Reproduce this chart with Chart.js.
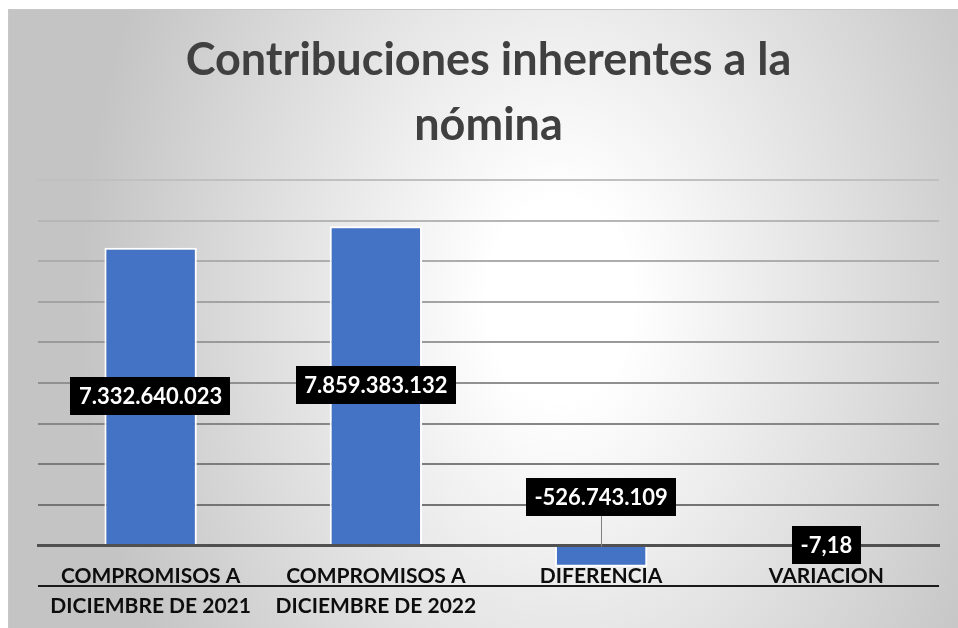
<!DOCTYPE html>
<html>
<head>
<meta charset="utf-8">
<script src="https://cdn.jsdelivr.net/npm/chart.js@4"></script>
<style>
  html, body { margin: 0; padding: 0; background: #fff; }
  canvas { display: block; }
</style>
</head>
<body>
<canvas id="nominaChart" width="958" height="628"></canvas>
<script>
// Chart data
const categories = [
    ['COMPROMISOS A', 'DICIEMBRE DE 2021'],
    ['COMPROMISOS A', 'DICIEMBRE DE 2022'],
    'DIFERENCIA',
    'VARIACION'
];
const values = [7332640023, 7859383132, -526743109, -7.18];
const titleLines = ['Contribuciones inherentes a la', 'nómina'];

const FONT = 'Lato';

// Spanish style number: 7.332.640.023 / -7,18
function formatValue(v) {
    if (Number.isInteger(v)) {
        const s = Math.abs(v).toString().replace(/\B(?=(\d{3})+(?!\d))/g, '.');
        return (v < 0 ? '-' : '') + s;
    }
    return v.toFixed(2).replace('.', ',');
}

// Grey shade of each gridline, lighter at top
function gridColor(ctx) {
    const v = ctx.tick ? ctx.tick.value : 0;
    if (v === 0) return '#505050';
    if (v < 0) return '#1a1a1a';
    const t = v / 9e9;
    const g = Math.round(0x6a + (0xc0 - 0x6a) * t);
    return 'rgb(' + g + ',' + g + ',' + g + ')';
}

// Background: radial grey gradient behind the whole chart
const backgroundPlugin = {
    id: 'bgGradient',
    beforeDraw(chart) {
        const c = chart.ctx;
        const w = chart.width, h = chart.height;
        const x0 = 8, y0 = 9;
        const cx = 560, cy = 300;
        const sy = 1.4;
        c.save();
        c.fillStyle = '#ffffff';
        c.fillRect(0, 0, w, h);
        c.translate(cx, cy);
        c.scale(1, sy);
        const grad = c.createRadialGradient(0, 0, 0, 0, 0, 480);
        grad.addColorStop(0, '#ffffff');
        grad.addColorStop(0.15, '#ffffff');
        grad.addColorStop(1, '#c4c4c4');
        c.fillStyle = grad;
        c.fillRect(x0 - cx, (y0 - cy) / sy, w - x0, (h - y0) / sy);
        c.restore();
        c.save();
        c.strokeStyle = '#c8c8c8';
        c.lineWidth = 1;
        c.beginPath();
        c.moveTo(x0 + 0.5, h);
        c.lineTo(x0 + 0.5, y0 + 0.5);
        c.lineTo(w, y0 + 0.5);
        c.stroke();
        c.restore();
    }
};

// Black boxes with white value text
const valueLabelPlugin = {
    id: 'valueLabels',
    afterDraw(chart) {
        const c = chart.ctx;
        const meta = chart.getDatasetMeta(0);
        c.save();
        c.font = 'bold 22px ' + FONT;
        c.textAlign = 'center';
        c.textBaseline = 'middle';
        meta.data.forEach((bar, i) => {
            const value = chart.data.datasets[0].data[i];
            const text = formatValue(value);
            const tw = c.measureText(text).width;
            const bw = tw + 17;
            const bh = 38;
            let cy;
            if (i === 2) {
                cy = bar.base - 50;
                // leader line
                c.strokeStyle = '#808080';
                c.lineWidth = 1;
                c.beginPath();
                c.moveTo(Math.round(bar.x) + 0.5, cy + bh / 2);
                c.lineTo(Math.round(bar.x) + 0.5, bar.base);
                c.stroke();
            } else if (i === 3) {
                cy = bar.y;
            } else {
                cy = (bar.y + bar.base) / 2;
            }
            c.fillStyle = '#000000';
            c.fillRect(Math.round(bar.x - bw / 2), Math.round(cy - bh / 2), Math.round(bw), bh);
            c.fillStyle = '#ffffff';
            c.fillText(text, bar.x, cy + 1);
        });
        c.restore();
    }
};

const ctx = document.getElementById('nominaChart').getContext('2d');
const nominaChart = new Chart(ctx, {
    type: 'bar',
    data: {
        labels: categories,
        datasets: [{
            label: 'Contribuciones',
            data: values,
            backgroundColor: ['#4472C4', '#4472C4', '#4472C4', 'rgba(68,114,196,0)'],
            borderColor: '#ffffff',
            borderWidth: [2, 2, 2, 0],
            barPercentage: 0.41,
            categoryPercentage: 1
        }]
    },
    options: {
        responsive: false,
        animation: false,
        devicePixelRatio: 1,
        layout: {
            padding: { top: 0, left: 38, right: 19, bottom: 42 }
        },
        scales: {
            x: {
                type: 'category',
                position: { y: 0 },
                z: 1,
                grid: { display: false, drawTicks: false },
                border: { display: true, color: '#505050', width: 3 },
                ticks: {
                    color: '#0d0d0d',
                    font: { family: FONT, size: 21, weight: 'bold', lineHeight: 30 / 21 },
                    padding: 16,
                    maxRotation: 0,
                    autoSkip: false
                }
            },
            y: {
                min: -1e9,
                max: 9e9,
                ticks: { display: false, stepSize: 1e9 },
                border: { display: false },
                grid: {
                    drawTicks: false,
                    color: gridColor,
                    lineWidth: (c) => (c.tick && c.tick.value === 0 ? 3 : 2)
                }
            }
        },
        plugins: {
            legend: { display: false },
            tooltip: { enabled: false },
            title: {
                display: true,
                text: titleLines,
                color: '#404040',
                font: { family: FONT, size: 45, weight: 'bold', lineHeight: 65 / 45 },
                padding: { top: 28, bottom: 22 }
            }
        }
    },
    plugins: [backgroundPlugin, valueLabelPlugin]
});
</script>
</body>
</html>
